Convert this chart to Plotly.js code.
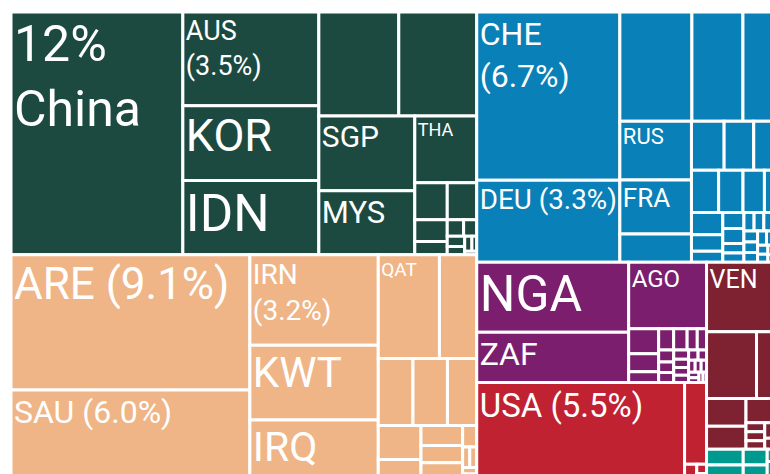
<!DOCTYPE html>
<html>
<head>
<meta charset="utf-8">
<script src="https://cdn.plot.ly/plotly-3.0.1.min.js"></script>
<style>
html,body{margin:0;padding:0;overflow:hidden;background:#ffffff;}
#chart{width:782px;height:479px;}
</style>
</head>
<body>
<div id="chart"></div>
<script>
// ---------- DATA (share of total, %) ----------
const groupNames = ['Asia', 'Middle East', 'Europe', 'Africa', 'North America', 'South America', 'Caribbean'];

const asiaCodes  = ['CHN','AUS','KOR','IDN','A01','A02','SGP','MYS','THA','A03','A04','A05','A06','A07','A08','A09','A10','A11','A12','A13'];
const asiaValues = [11.62,3.555,2.83,2.81,2.314,2.256,2.002,1.709,1.155,0.334,0.303,0.197,0.119,0.075,0.06,0.05,0.04,0.03,0.02,0.012];
const asiaText   = ['12%<br>China','AUS<br>(3.5%)','KOR','IDN','','','SGP','MYS','THA','','','','','','','','','','',''];

const meCodes  = ['ARE','SAU','IRN','KWT','IRQ','QAT','M01','M02','M03','M04','M05','M06','M07','M08','M09','M10','M11','M12','M13','M14'];
const meValues = [9.006,5.915,3.241,2.673,2.108,1.770,1.079,0.647,0.643,0.546,0.404,0.232,0.232,0.199,0.189,0.084,0.041,0.04,0.025,0.02];
const meText   = ['ARE (9.1%)','SAU (6.0%)','IRN<br>(3.2%)','KWT','IRQ','QAT','','','','','','','','','','','','','',''];

const euCodes  = ['CHE','DEU','E01','E02','E03','RUS','FRA','E04','E05','E06','E07','E08','E09','E10','E11','E12','E13','E14','E15','E16','E17',
                  'E18','E19','E20','E21','E22','E23','E24','E25','E26','E27','E28','E29','E30','E31','E32','E33','E34','E35'];
const euValues = [6.704,3.272,2.192,1.553,1.188,1.171,1.077,0.565,0.447,0.405,0.387,0.320,0.287,0.252,0.207,0.193,0.145,0.095,0.093,0.089,0.055,
                  0.055,0.052,0.05,0.048,0.045,0.042,0.04,0.037,0.035,0.032,0.029,0.026,0.023,0.02,0.017,0.014,0.011,0.005];
const euText   = ['CHE<br>(6.7%)','DEU (3.3%)','','','','RUS','FRA'];

const afCodes  = ['NGA','ZAF','AGO','F01','F02','F03','F04','F05','F06','F07','F08','F09','F10','F11','F12','F13','F14','F15','F16','F17','F18','F19','F20','F21','F22','F23'];
const afValues = [2.959,2.135,1.442,0.21,0.15,0.09,0.089,0.08,0.06,0.055,0.05,0.045,0.042,0.038,0.035,0.032,0.03,0.027,0.024,0.022,0.02,0.018,0.016,0.014,0.012,0.01];
const afText   = ['NGA','ZAF','AGO'];

const naCodes  = ['USA','N01','N02','N03','N04'];
const naValues = [5.582,0.5,0.05,0.025,0.015];
const naText   = ['USA (5.5%)'];

const saCodes  = ['VEN','S01','S02','S03','S04','S05','S06','S07','S08','S09','S10','S11','S12','S13'];
const saValues = [1.459,0.929,0.474,0.306,0.254,0.184,0.060,0.047,0.047,0.045,0.04,0.035,0.03,0.023];
const saText   = ['VEN'];

const cbCodes  = ['T01','T02','T03','T04','T05','T06','T07'];
const cbValues = [0.160,0.143,0.105,0.093,0.05,0.04,0.032];
const cbText   = [];

// ---------- STYLE ----------
const groupColors = ['#1d4a40', '#efb587', '#0a80b8', '#7c1e6e', '#c12232', '#7e2131', '#00998f'];
const labelSize = {CHN:50, AUS:27, KOR:45, IDN:51, SGP:30, MYS:31, THA:18,
                   ARE:44, SAU:32, IRN:28, KWT:42, IRQ:41, QAT:19,
                   CHE:32, DEU:28, RUS:22, FRA:26,
                   NGA:50, ZAF:32, AGO:24, USA:33, VEN:25};
const FONT = 'Roboto, "Liberation Sans", sans-serif';

const groupData = [
  [asiaCodes, asiaValues, asiaText],
  [meCodes, meValues, meText],
  [euCodes, euValues, euText],
  [afCodes, afValues, afText],
  [naCodes, naValues, naText],
  [saCodes, saValues, saText],
  [cbCodes, cbValues, cbText]
];

const ids = [], labels = [], parents = [], values = [], texts = [], colors = [], sizes = [];
groupNames.forEach(function (g, gi) {
  ids.push(g); labels.push(g); parents.push(''); values.push(0); texts.push('');
  colors.push(groupColors[gi]); sizes.push(12);
  const d = groupData[gi];
  d[0].forEach(function (c, i) {
    ids.push(g + '/' + c); labels.push(c); parents.push(g); values.push(d[1][i]);
    texts.push(d[2][i] || ''); colors.push(groupColors[gi]); sizes.push(labelSize[c] || 12);
  });
});

const trace = {
  type: 'treemap',
  ids: ids, labels: labels, parents: parents, values: values,
  branchvalues: 'remainder',
  sort: true,
  text: texts,
  textinfo: 'text',
  textposition: 'top left',
  textfont: {family: FONT, size: sizes, color: '#ffffff'},
  insidetextfont: {family: FONT, size: sizes, color: '#ffffff'},
  marker: {colors: colors, line: {width: 3, color: '#ffffff'}, pad: {t: 0, l: 0, r: 0, b: 0}},
  tiling: {packing: 'squarify', squarifyratio: 1.618034, pad: 0},
  pathbar: {visible: false},
  hoverinfo: 'skip'
};

const layout = {
  width: 782, height: 479,
  margin: {l: 10.5, t: 11.5, r: 0, b: 0},
  paper_bgcolor: '#ffffff',
  showlegend: false
};

Plotly.newPlot('chart', [trace], layout, {displayModeBar: false, staticPlot: true});
</script>
</body>
</html>
